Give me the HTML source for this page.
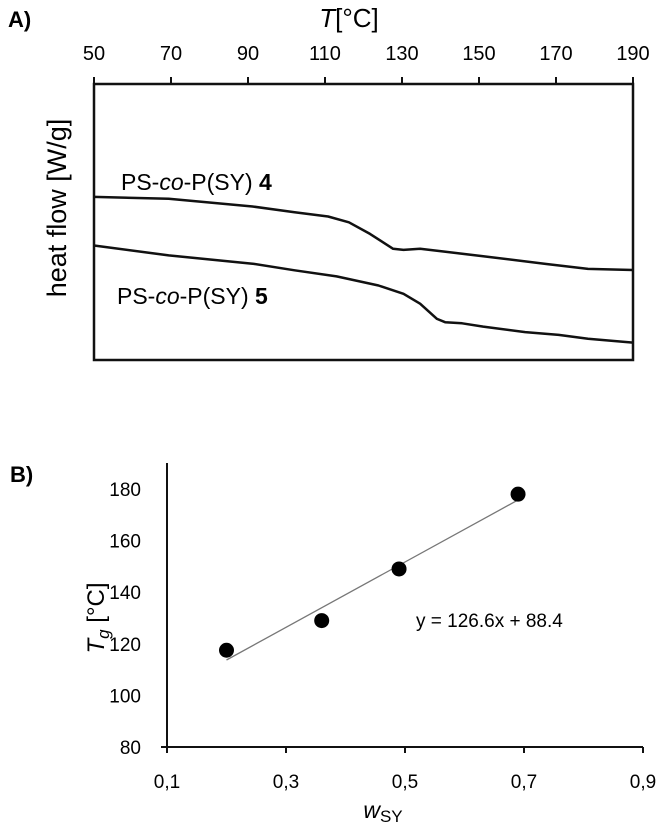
<!DOCTYPE html>
<html><head><meta charset="utf-8"><style>
html,body{margin:0;padding:0;background:#fff;}
svg{display:block;font-family:"Liberation Sans",sans-serif;}
</style></head><body>
<svg id="chart" width="658" height="830" viewBox="0 0 658 830">
<text x="8" y="27" font-size="22" font-weight="bold">A)</text>
<text x="349" y="27" font-size="26" text-anchor="middle"><tspan font-style="italic">T</tspan>[°C]</text>
<g id="gA"></g>
<text x="10" y="482" font-size="22" font-weight="bold">B)</text>
<g id="gB"></g>
</svg>
<script>
// Panel A data
const tempTicks = [50,70,90,110,130,150,170,190];
const s4T = [50,69.4,91.2,102.1,110.8,116.2,121.7,127.7,130.4,134.7,140.2,151.1,167.5,178.3,190];
const s4HF = [59.1,58.4,55.6,53.5,52.0,49.9,45.7,40.3,39.9,40.3,39.4,37.6,34.8,33.0,32.6];
const s5T = [50,69.4,91.2,102.1,113.0,123.9,130.4,134.7,139.1,141.2,145.6,151.1,162.0,170.7,178.3,190];
const s5HF = [41.5,37.9,34.9,32.5,30.3,27.0,24.0,20.4,14.9,13.7,13.3,12.1,10.1,9.1,7.7,6.3];
// Panel B data
const wTicks = [0.1,0.3,0.5,0.7,0.9];
const wTickLabels = ["0,1","0,3","0,5","0,7","0,9"];
const tgTicks = [80,100,120,140,160,180];
const wValues = [0.2,0.36,0.49,0.69];
const tgValues = [117.5,129,149,178];
const fitSlope = [126.6];
const fitIntercept = [88.4];

const NS="http://www.w3.org/2000/svg";
function mk(tag,attrs,parent,text){const e=document.createElementNS(NS,tag);for(const k in attrs)e.setAttribute(k,attrs[k]);if(text!==undefined)e.textContent=text;parent.appendChild(e);return e;}

// ---- Panel A ----
const gA=document.getElementById('gA');
const AL=94,AR=633,AT=84,AB=360;
const xA=t=>AL+(t-50)/(190-50)*(AR-AL);
const yA=v=>AB-v/100*(AB-AT);
const frame=mk('rect',{x:AL,y:AT,width:AR-AL,height:AB-AT,fill:'none',stroke:'#111','stroke-width':2.5},gA);


tempTicks.forEach(t=>{
  const l=mk('line',{x1:xA(t),x2:xA(t),y1:AT,y2:AT-7,stroke:'#111','stroke-width':2},gA);
  
  
  const tx=mk('text',{x:xA(t),y:60,'font-size':20,'text-anchor':'middle'},gA,String(t));
  
  
});
function curve(T,H,name){
  const d=T.map((t,i)=>(i?'L':'M')+xA(t).toFixed(1)+','+yA(H[i]).toFixed(1)).join(' ');
  const p=mk('path',{d:d,fill:'none',stroke:'#111','stroke-width':2.5,'stroke-linejoin':'round'},gA);
  
  
}
curve(s4T,s4HF,'curve-ps-co-psy-4');
curve(s5T,s5HF,'curve-ps-co-psy-5');
const l4=mk('text',{x:121,y:190,'font-size':23},gA);


l4.innerHTML='PS-<tspan font-style="italic">co</tspan>-P(SY) <tspan font-weight="bold">4</tspan>';
const l5=mk('text',{x:117,y:304,'font-size':23},gA);


l5.innerHTML='PS-<tspan font-style="italic">co</tspan>-P(SY) <tspan font-weight="bold">5</tspan>';
const yt=mk('text',{x:0,y:0,'font-size':27,'text-anchor':'middle',transform:'translate(66,208) rotate(-90)'},gA,'heat flow [W/g]');



// ---- Panel B ----
const gB=document.getElementById('gB');
const BL=167,BR=643,BB=747,BT=489;
const xB=w=>BL+(w-0.1)/(0.9-0.1)*(BR-BL);
const yB=v=>BB-(v-80)/(180-80)*(BB-BT);
const ya=mk('line',{x1:BL,x2:BL,y1:463,y2:BB,stroke:'#111','stroke-width':2},gB);


const xa=mk('line',{x1:BL-6,x2:BR,y1:BB,y2:BB,stroke:'#111','stroke-width':2},gB);


tgTicks.forEach(v=>{
  const t=mk('text',{x:141,y:yB(v)+7,'font-size':19,'text-anchor':'end'},gB,String(v));
  
  
});
wTicks.forEach((w,i)=>{
  const l=mk('line',{x1:xB(w),x2:xB(w),y1:BB,y2:BB+6,stroke:'#111','stroke-width':2},gB);
  
  
  const t=mk('text',{x:xB(w),y:788,'font-size':19,'text-anchor':'middle'},gB,wTickLabels[i]);
  
  
});
const x0=wValues[0],x1=wValues[wValues.length-1];
const fit=mk('line',{x1:xB(x0),y1:yB(fitSlope[0]*x0+fitIntercept[0]),x2:xB(x1),y2:yB(fitSlope[0]*x1+fitIntercept[0]),stroke:'#777','stroke-width':1.3},gB);


wValues.forEach((w,i)=>{
  const c=mk('circle',{cx:xB(w),cy:yB(tgValues[i]),r:7.5,fill:'#000'},gB);
  
  
});
const eq=mk('text',{x:416,y:627,'font-size':19},gB,'y =  '+fitSlope[0].toFixed(1)+'x + '+fitIntercept[0].toFixed(1));


const xt=mk('text',{x:383,y:818,'font-size':23,'text-anchor':'middle'},gB);


xt.innerHTML='<tspan font-style="italic">w</tspan><tspan font-size="17" dy="4">SY</tspan>';
const ytb=mk('text',{x:0,y:0,'font-size':24,'text-anchor':'middle',transform:'translate(104,618) rotate(-90)'},gB);


ytb.innerHTML='<tspan font-style="italic">T</tspan><tspan font-style="italic" font-size="17" dy="5">g</tspan><tspan dy="-5"> [°C]</tspan>';
</script>
</body></html>
